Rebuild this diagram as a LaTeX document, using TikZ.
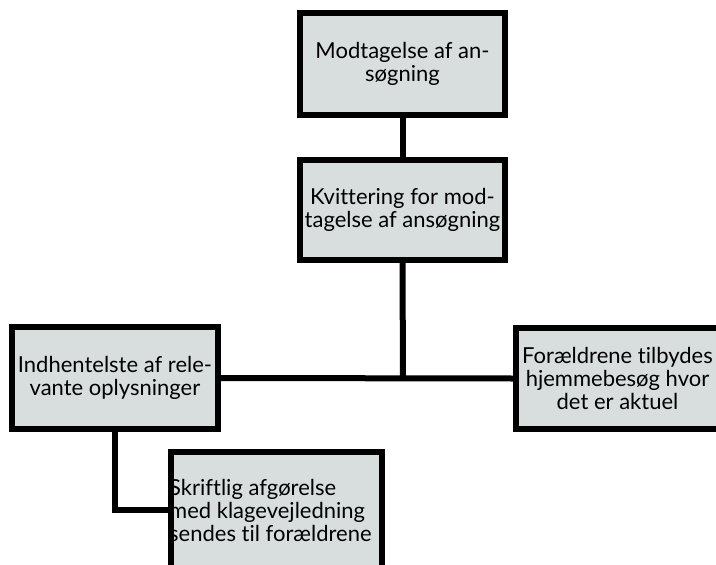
\documentclass[tikz,border=0pt]{standalone}
\usepackage{fontspec}
\setmainfont{Lato}[Ligatures=NoCommon]
\definecolor{boxfill}{RGB}{216,222,222}
\begin{document}
\begin{tikzpicture}[x=1pt,y=-1pt,
  box/.style={draw=black,line width=6pt,fill=boxfill,inner sep=0pt,align=center,
    font=\fontsize{22}{23}\selectfont},
  conn/.style={line width=6pt,draw=black},
  txt/.style={inner sep=0pt,align=left,font=\fontsize{22}{23}\selectfont}]
\useasboundingbox (0,0) rectangle (716,565);
\clip (0,0) rectangle (716,565);
\node[box,minimum width=205pt,minimum height=102pt] (b1) at (402.5,64) {Modtagelse af an-\\søgning};
\node[box,minimum width=205pt,minimum height=100pt] (b2) at (402.5,210) {Kvittering for mod-\\tagelse af ansøgning};
\node[box,minimum width=206pt,minimum height=102pt] (b3) at (115,378) {Indhentelste af rele-\\vante oplysninger};
\node[box,minimum width=203pt,minimum height=101pt] (b4) at (617.5,378.5) {Forældrene tilbydes\\hjemmebesøg hvor\\det er aktuel};
\node[box,minimum width=211pt,minimum height=116pt] (b5) at (276.5,510) {};
\node[txt,anchor=west] (t5) at (169,510) {Skriftlig afgørelse\\med klagevejledning\\sendes til forældrene};
\coordinate (j) at (403,378);
\draw[conn] (b1.south) -- (b2.north);
\draw[conn] (b2.south) -- (j);
\draw[conn] (b3.east) -- (b4.west);
\draw[conn] (b3.south) |- (b5.west);
\end{tikzpicture}
\end{document}
